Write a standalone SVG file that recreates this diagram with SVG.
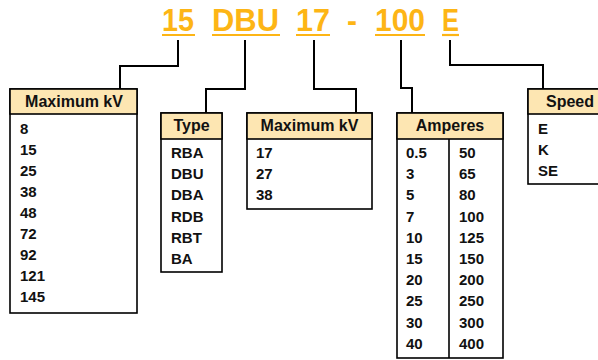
<svg xmlns="http://www.w3.org/2000/svg" width="598" height="360" viewBox="0 0 598 360">
<style>
.code{font-family:"Liberation Sans",Arial,sans-serif;font-weight:bold;font-size:31px;fill:#FDB515}
.ul{stroke:#FDB515;stroke-width:2.2}
.box{fill:#fff;stroke:#000;stroke-width:1.6}
.hdr{fill:#FDE6B2;stroke:#000;stroke-width:1.6}
.ht{font-family:"Liberation Sans",Arial,sans-serif;font-weight:bold;font-size:16px;fill:#111;text-anchor:middle}
.t{font-family:"Liberation Sans",Arial,sans-serif;font-weight:bold;font-size:15px;fill:#111}
.con{fill:none;stroke:#000;stroke-width:2}
</style>
<rect width="598" height="360" fill="#fff"/>
<g id="code">
<text class="code" x="162" y="31" textLength="32" lengthAdjust="spacingAndGlyphs">15</text>
<text class="code" x="212" y="31" textLength="67" lengthAdjust="spacingAndGlyphs">DBU</text>
<text class="code" x="296" y="31" textLength="34" lengthAdjust="spacingAndGlyphs">17</text>
<text class="code" x="347" y="31" textLength="10" lengthAdjust="spacingAndGlyphs">-</text>
<text class="code" x="375" y="31" textLength="50" lengthAdjust="spacingAndGlyphs">100</text>
<text class="code" x="442" y="31" textLength="17" lengthAdjust="spacingAndGlyphs">E</text>
<line class="ul" x1="162" y1="35" x2="195" y2="35"/>
<line class="ul" x1="212" y1="35" x2="280" y2="35"/>
<line class="ul" x1="296" y1="35" x2="330" y2="35"/>
<line class="ul" x1="375" y1="35" x2="425" y2="35"/>
<line class="ul" x1="442" y1="35" x2="459" y2="35"/>
</g>
<g id="connectors">
<path class="con" d="M178,40 V66 H120 V89"/>
<path class="con" d="M245,40 V89 H206 V113"/>
<path class="con" d="M314,40 V89 H356 V113"/>
<path class="con" d="M401,40 V88 H412 V113"/>
<path class="con" d="M450,40 V65 H543 V89"/>
</g>
<g id="maxkv1">
<rect class="box" x="10" y="89" width="127" height="224"/>
<rect class="hdr" x="10" y="89" width="127" height="25"/>
<text class="ht" x="74" y="107">Maximum kV</text>
<text class="t" x="20" y="134">8</text>
<text class="t" x="20" y="155">15</text>
<text class="t" x="20" y="176">25</text>
<text class="t" x="20" y="197">38</text>
<text class="t" x="20" y="218">48</text>
<text class="t" x="20" y="239">72</text>
<text class="t" x="20" y="260">92</text>
<text class="t" x="20" y="281">121</text>
<text class="t" x="20" y="302">145</text>
</g>
<g id="type">
<rect class="box" x="161" y="113" width="61" height="159"/>
<rect class="hdr" x="161" y="113" width="61" height="26"/>
<text class="ht" x="191.5" y="131">Type</text>
<text class="t" x="171" y="158">RBA</text>
<text class="t" x="171" y="179">DBU</text>
<text class="t" x="171" y="200">DBA</text>
<text class="t" x="171" y="222">RDB</text>
<text class="t" x="171" y="243">RBT</text>
<text class="t" x="171" y="264">BA</text>
</g>
<g id="maxkv2">
<rect class="box" x="247" y="113" width="125" height="96"/>
<rect class="hdr" x="247" y="113" width="125" height="26"/>
<text class="ht" x="309.5" y="131">Maximum kV</text>
<text class="t" x="256" y="158">17</text>
<text class="t" x="256" y="179">27</text>
<text class="t" x="256" y="200">38</text>
</g>
<g id="amperes">
<rect class="box" x="397" y="113" width="106" height="245"/>
<rect class="hdr" x="397" y="113" width="106" height="26"/>
<line x1="449" y1="139" x2="449" y2="358" stroke="#000" stroke-width="1.6"/>
<text class="ht" x="450" y="131">Amperes</text>
<text class="t" x="406" y="158">0.5</text>
<text class="t" x="406" y="179">3</text>
<text class="t" x="406" y="200">5</text>
<text class="t" x="406" y="222">7</text>
<text class="t" x="406" y="243">10</text>
<text class="t" x="406" y="264">15</text>
<text class="t" x="406" y="285">20</text>
<text class="t" x="406" y="306">25</text>
<text class="t" x="406" y="328">30</text>
<text class="t" x="406" y="349">40</text>
<text class="t" x="459" y="158">50</text>
<text class="t" x="459" y="179">65</text>
<text class="t" x="459" y="200">80</text>
<text class="t" x="459" y="222">100</text>
<text class="t" x="459" y="243">125</text>
<text class="t" x="459" y="264">150</text>
<text class="t" x="459" y="285">200</text>
<text class="t" x="459" y="306">250</text>
<text class="t" x="459" y="328">300</text>
<text class="t" x="459" y="349">400</text>
</g>
<g id="speed">
<rect class="box" x="528" y="89" width="80" height="95"/>
<rect class="hdr" x="528" y="89" width="80" height="25"/>
<text class="ht" x="546" y="107" style="text-anchor:start">Speed</text>
<text class="t" x="538" y="134">E</text>
<text class="t" x="538" y="155">K</text>
<text class="t" x="538" y="176">SE</text>
</g>
</svg>
